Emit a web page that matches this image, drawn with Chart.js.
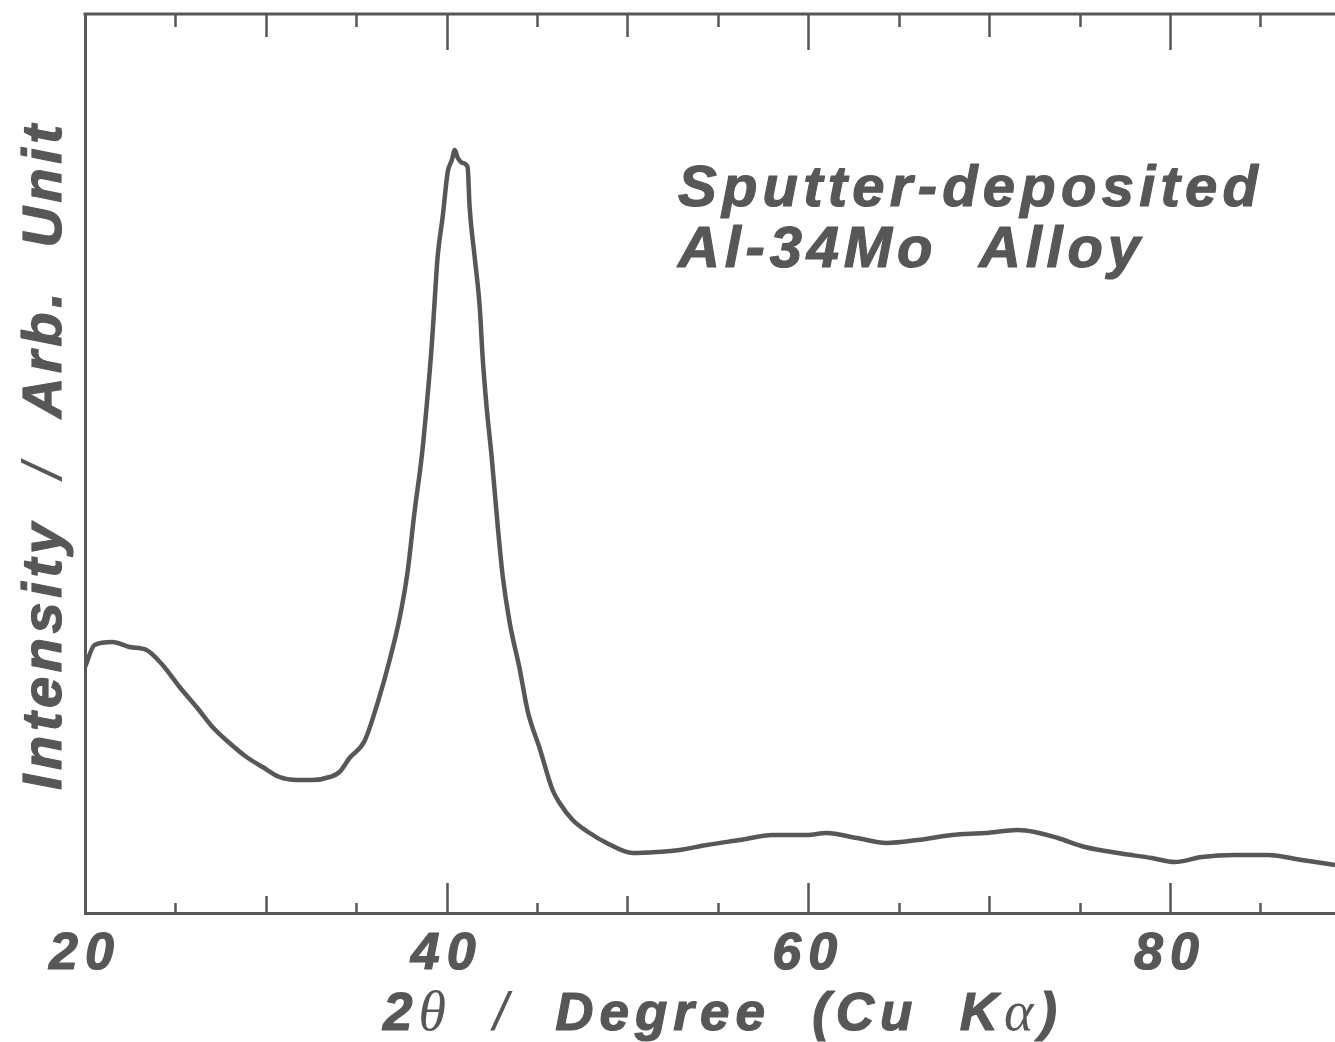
<!DOCTYPE html>
<html>
<head>
<meta charset="utf-8">
<title>Sputter-deposited Al-34Mo Alloy</title>
<script src="https://cdn.jsdelivr.net/npm/chart.js@4.4.0/dist/chart.umd.min.js"></script>
<style>
  html, body { margin: 0; padding: 0; background: #fff; }
  #wrap { position: relative; width: 1335px; height: 1042px; }
</style>
</head>
<body>
<div id="wrap"><canvas id="xrd"></canvas></div>
<script>
'use strict';

// 2theta (deg)
const twoTheta = [
  20.00, 20.53, 21.52, 22.46, 23.40, 24.29, 25.23, 26.17, 27.05, 27.99,
  28.93, 29.82, 30.76, 31.70, 32.59, 33.53, 34.08, 34.63, 35.46, 36.18,
  36.85, 37.40, 37.84, 38.23, 38.62, 38.89, 39.17, 39.34, 39.50, 39.78,
  40.06, 40.29, 40.45, 40.62, 40.89, 41.16, 41.27, 41.55, 41.83, 41.99,
  42.21, 42.49, 42.82, 43.10, 43.49, 44.04, 44.48, 45.14, 45.86, 46.25,
  46.97, 47.91, 48.85, 50.29, 51.62, 52.89, 54.38, 56.21, 58.04, 59.92,
  61.02, 62.68, 64.33, 66.06, 67.94, 69.77, 71.59, 72.53, 73.80, 75.30,
  77.12, 79.00, 80.27, 81.77, 83.59, 85.42, 87.30, 89.13
];

// intensity, arbitrary units
const intensity = [
  246, 268, 271, 266, 263, 248, 226, 206, 186, 170,
  156, 146, 136, 133, 133, 136, 141, 155, 172, 210,
  253, 295, 341, 402, 456, 506, 566, 613, 656, 696,
  741, 753, 763, 755, 750, 746, 706, 656, 606, 556,
  506, 456, 388, 337, 290, 244, 202, 165, 123, 110,
  93, 80, 70, 60, 61, 63, 68, 73, 78, 78,
  80, 75, 70, 73, 78, 80, 83, 81, 75, 66,
  60, 55, 51, 56, 58, 58, 53, 48
];

const xLabelValues = [20, 40, 60, 80];
const xTitle = '2θ / Degree (Cu Kα)';
const yTitle = 'Intensity / Arb. Unit';
const noteLines = ['Sputter-deposited', 'Al-34Mo  Alloy'];

const INK = '#575757';
const SANS = '"Liberation Sans", Arial, Helvetica, sans-serif';
const SERIF = '"Liberation Serif", "DejaVu Serif", serif';
const BOLD = size => 'italic bold ' + size + 'px ' + SANS;
const THIN = size => 'italic ' + size + 'px ' + SANS;
const GREEK = size => 'italic ' + size + 'px ' + SERIF;

// draw a run of differently styled pieces, spread evenly over a given width
function drawRun(ctx, parts, x, y, width) {
  let natural = 0;
  let chars = 0;
  ctx.letterSpacing = '0px';
  parts.forEach(([txt, font]) => {
    ctx.font = font;
    natural += ctx.measureText(txt).width;
    chars += [...txt].length;
  });
  const sp = (width - natural) / (chars - 1);
  let cx = x;
  parts.forEach(([txt, font]) => {
    ctx.font = font;
    const heavy = font.indexOf('bold') !== -1;
    for (const ch of txt) {
      ctx.fillText(ch, cx, y);
      if (heavy) ctx.strokeText(ch, cx, y);
      cx += ctx.measureText(ch).width + sp;
    }
  });
}

const framePlugin = {
  id: 'frame',
  beforeDraw(chart) {
    chart.ctx.letterSpacing = '7px';
  },
  afterDraw(chart) {
    const { ctx, chartArea: a, scales: { x } } = chart;
    ctx.save();
    ctx.letterSpacing = '0px';
    ctx.strokeStyle = INK;
    ctx.fillStyle = INK;

    // top frame line
    ctx.lineWidth = 3;
    ctx.beginPath();
    ctx.moveTo(a.left - 1.5, a.top);
    ctx.lineTo(a.right, a.top);
    ctx.stroke();

    // inward ticks, three lengths
    ctx.lineWidth = 2.5;
    x.ticks.forEach(t => {
      const v = t.value;
      if (v <= x.min || v >= x.max) return;
      const px = Math.round(x.getPixelForValue(v)) + 0.5;
      const lenB = v % 20 === 0 ? 30 : (v % 10 === 0 ? 17 : 10);
      const lenT = v % 20 === 0 ? 36 : (v % 10 === 0 ? 23 : 13);
      ctx.beginPath();
      ctx.moveTo(px, a.bottom);
      ctx.lineTo(px, a.bottom - lenB);
      ctx.moveTo(px, a.top);
      ctx.lineTo(px, a.top + lenT);
      ctx.stroke();
    });

    // heavier lettering, as in the scanned original
    ctx.lineWidth = 1.2;
    ctx.lineJoin = 'round';
    ctx.textBaseline = 'alphabetic';
    ctx.textAlign = 'left';

    // tick numbers redrawn with a light outline on top of the library's labels
    ctx.font = BOLD(52);
    ctx.textAlign = 'center';
    ctx.textBaseline = 'middle';
    x.getLabelItems().forEach(item => {
      if (!item.label) return;
      const [lx, ly] = item.options.translation;
      ctx.letterSpacing = '7px';
      ctx.strokeText(item.label, lx, ly + item.textOffset);
      ctx.letterSpacing = '0px';
    });
    ctx.textAlign = 'left';
    ctx.textBaseline = 'alphabetic';

    // annotation
    drawRun(ctx, [[noteLines[0], BOLD(58)]], 678, 206, 580);
    drawRun(ctx, [[noteLines[1], BOLD(58)]], 678, 267, 462);

    // y title, rotated
    ctx.save();
    ctx.translate(61, 790);
    ctx.rotate(-Math.PI / 2);
    drawRun(ctx, [
      ['Intensity  ', BOLD(56)],
      ['/', THIN(56)],
      ['  Arb.  Unit', BOLD(56)]
    ], 0, 0, 665);
    ctx.restore();

    // x title, greek letters in serif italic
    drawRun(ctx, [
      ['2', BOLD(53)],
      ['θ', GREEK(56)],
      ['  /  ', THIN(53)],
      ['Degree  (Cu  K', BOLD(53)],
      ['α', GREEK(56)],
      [')', BOLD(53)]
    ], 383, 1030, 674);

    ctx.restore();
  }
};

const points = twoTheta.map((t, i) => ({ x: t, y: intensity[i] }));

new Chart(document.getElementById('xrd'), {
  type: 'line',
  data: {
    datasets: [{
      label: xTitle,
      data: points,
      borderColor: INK,
      borderWidth: 4.5,
      pointRadius: 0,
      cubicInterpolationMode: 'monotone',
      fill: false
    }]
  },
  options: {
    responsive: true,
    maintainAspectRatio: false,
    animation: false,
    layout: { padding: { top: 14, right: 0, bottom: 0, left: 0 } },
    plugins: {
      legend: { display: false },
      tooltip: { enabled: false }
    },
    scales: {
      x: {
        type: 'linear',
        min: 20,
        max: 89.13,
        grid: { display: false },
        border: { display: true, color: INK, width: 3 },
        ticks: {
          stepSize: 5,
          includeBounds: false,
          autoSkip: false,
          maxRotation: 0,
          padding: 2,
          color: INK,
          font: { family: SANS, size: 52, weight: 'bold', style: 'italic' },
          callback: v => xLabelValues.includes(v) ? String(v) : ''
        },
        afterFit: s => { s.height = 129; }
      },
      y: {
        title: { display: false, text: yTitle },
        min: 0,
        max: 899,
        grid: { display: false },
        border: { display: true, color: INK, width: 3 },
        ticks: { display: false },
        afterFit: s => { s.width = 85; }
      }
    }
  },
  plugins: [framePlugin]
});
</script>
</body>
</html>
